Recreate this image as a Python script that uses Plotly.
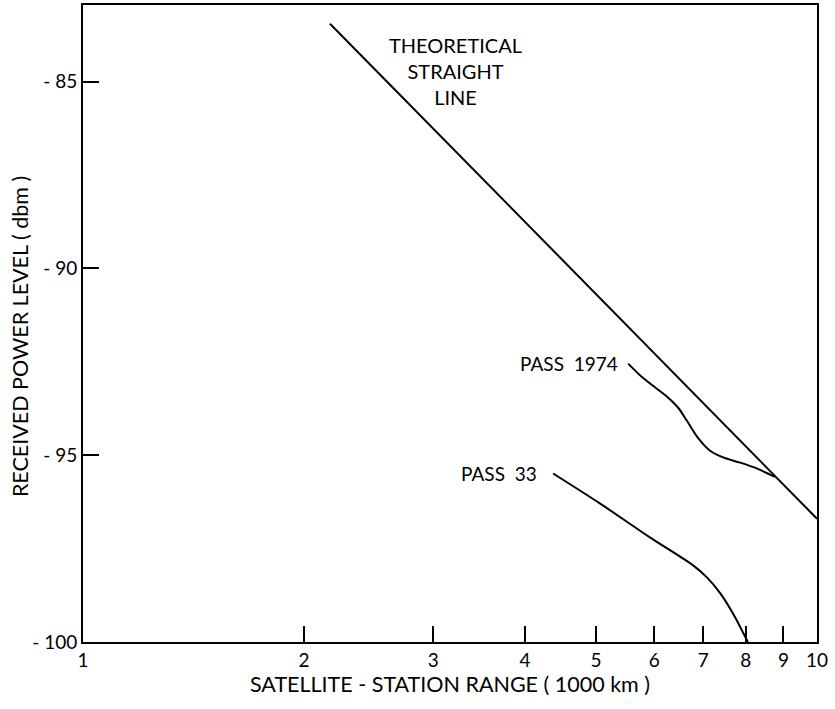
import math
import plotly.graph_objects as go

# Received power vs. satellite-station range (log range axis)
theory_range = [2.17, 10.0]
theory_dbm = [-83.45, -96.7]

pass1974_range = [5.53, 5.79, 6.05, 6.27, 6.47, 6.65, 6.88, 7.15, 7.45, 7.86, 8.29, 8.63, 8.76]
pass1974_dbm = [-92.55, -92.93, -93.22, -93.46, -93.73, -94.08, -94.53, -94.88, -95.06,
                -95.20, -95.36, -95.52, -95.58]

pass33_range = [4.37, 5.06, 5.92, 6.78, 7.08, 7.38, 7.68, 8.05]
pass33_dbm = [-95.49, -96.29, -97.20, -97.95, -98.27, -98.69, -99.23, -100.0]

x_ticks = [1, 2, 3, 4, 5, 6, 7, 8, 9, 10]
y_ticks = [-85, -90, -95, -100]
y_tick_text = ["- 85", "- 90", "- 95", "- 100"]

FONT = "Lato"
INK = "black"

fig = go.Figure()
fig.add_trace(go.Scatter(x=theory_range, y=theory_dbm, mode="lines",
                         line=dict(color=INK, width=2)))
fig.add_trace(go.Scatter(x=pass1974_range, y=pass1974_dbm, mode="lines",
                         line=dict(color=INK, width=2, shape="spline", smoothing=0.9)))
fig.add_trace(go.Scatter(x=pass33_range, y=pass33_dbm, mode="lines",
                         line=dict(color=INK, width=2, shape="spline", smoothing=0.8)))

fig.add_annotation(x=0.508, y=-83.65, xref="x", yref="y", showarrow=False,
                   text="THEORETICAL<br>STRAIGHT<br>LINE", align="center",
                   yanchor="top", font=dict(family=FONT, size=20, color=INK))
label_font = dict(family=FONT, size=19, color=INK)
fig.add_annotation(x=math.log10(pass1974_range[0]), y=pass1974_dbm[0], showarrow=False,
                   text="PASS  1974", xanchor="right", xshift=-8, font=label_font)
fig.add_annotation(x=math.log10(pass33_range[0]), y=pass33_dbm[0], showarrow=False,
                   text="PASS  33", xanchor="right", xshift=-14, font=label_font)

# vertical axis title, placed as rotated text left of the tick labels
fig.add_annotation(x=-0.086, y=0.48, xref="paper", yref="paper", showarrow=False,
                   text="RECEIVED POWER LEVEL ( dbm )", textangle=-90,
                   xanchor="center", yanchor="middle",
                   font=dict(family=FONT, size=21.5, color=INK))

fig.update_layout(
    width=835, height=709,
    margin=dict(l=83, r=18, t=3, b=67),
    plot_bgcolor="white", paper_bgcolor="white",
    showlegend=False,
    font=dict(family=FONT, size=19, color=INK),
)
fig.update_xaxes(
    type="log", range=[0, 1], tickvals=x_ticks, ticktext=[str(v) for v in x_ticks],
    ticks="inside", ticklen=16, tickwidth=1.5, tickcolor=INK,
    showline=True, linecolor=INK, linewidth=2, mirror=True, showgrid=False, zeroline=False,
    title=dict(text="SATELLITE - STATION RANGE ( 1000 km )", standoff=3,
               font=dict(family=FONT, size=21.5, color=INK)),
    tickfont=dict(family=FONT, size=19, color=INK),
)
fig.update_yaxes(
    range=[-100, -82.95], tickvals=y_ticks, ticktext=y_tick_text,
    ticks="inside", ticklen=16, tickwidth=1.5, tickcolor=INK,
    showline=True, linecolor=INK, linewidth=2, mirror=True, showgrid=False, zeroline=False,
    tickfont=dict(family=FONT, size=19, color=INK),
)

fig.write_html("out.html")
